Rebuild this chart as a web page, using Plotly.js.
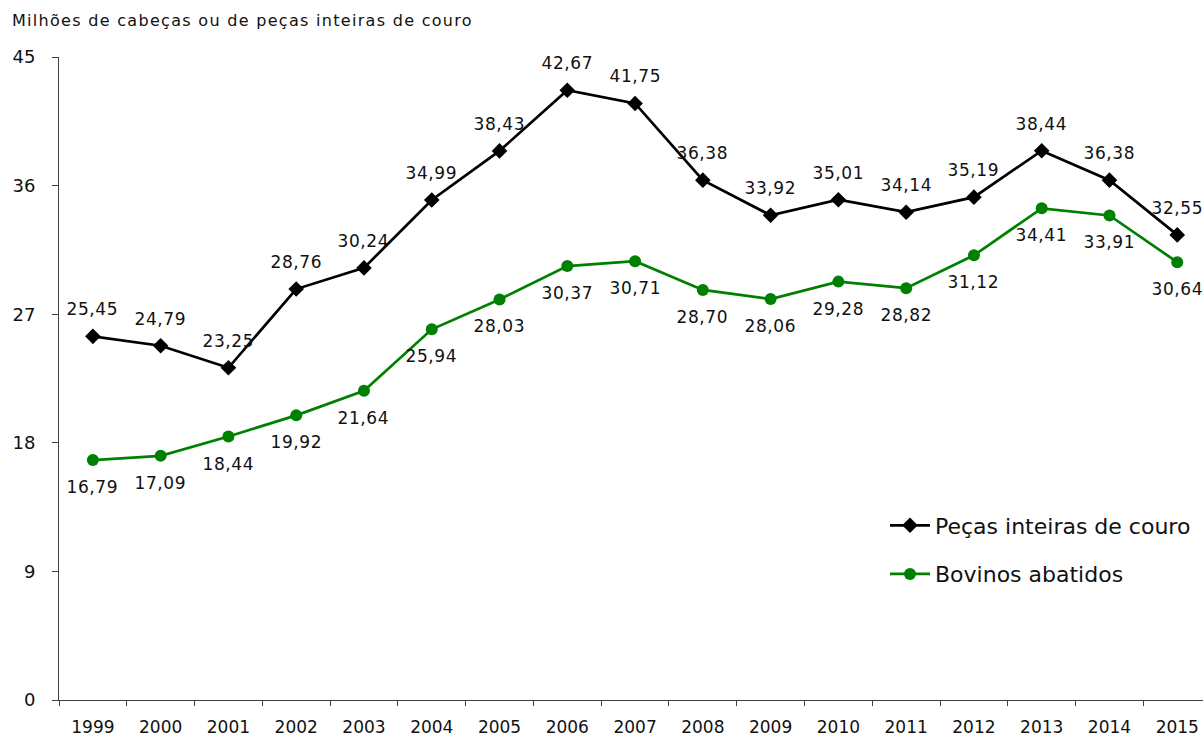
<!DOCTYPE html>
<html><head><meta charset="utf-8">
<script src="https://cdn.plot.ly/plotly-3.0.1.min.js"></script>
<style>
body{margin:0;background:#fff}
#chart{width:1203px;height:738px}
#chart .gtitle{letter-spacing:1.3px}
#chart .annotation-text{letter-spacing:0.6px}
#err{position:absolute;left:300px;top:600px;color:red;font:12px sans-serif}
</style>
</head><body><div id="chart"></div><div id="err"></div>
<script>
const years = ['1999','2000','2001','2002','2003','2004','2005','2006','2007','2008','2009','2010','2011','2012','2013','2014','2015'];
const pecas = [25.45,24.79,23.25,28.76,30.24,34.99,38.43,42.67,41.75,36.38,33.92,35.01,34.14,35.19,38.44,36.38,32.55];
const bovinos = [16.79,17.09,18.44,19.92,21.64,25.94,28.03,30.37,30.71,28.70,28.06,29.28,28.82,31.12,34.41,33.91,30.64];
const yTicks = [0,9,18,27,36,45];
const FONT = 'DejaVu Sans, Liberation Sans, sans-serif';

const fmt = v => v.toFixed(2).replace('.', ',');

const traces = [
  {x: years, y: pecas, name: 'Peças inteiras de couro', type: 'scatter', mode: 'lines+markers',
   line: {color: '#000000', width: 2.7}, marker: {symbol: 'diamond', size: 12, color: '#000000'},
   legendgroup: 'a', cliponaxis: false},
  {x: years, y: bovinos, name: 'Bovinos abatidos', type: 'scatter', mode: 'lines+markers',
   line: {color: '#008000', width: 2.7}, marker: {symbol: 'circle', size: 12, color: '#008000'},
   legendgroup: 'b', cliponaxis: false}
];

const annotations = [];
years.forEach(function (yr, i) {
  annotations.push({xref: 'x', yref: 'y', x: i, y: pecas[i], text: fmt(pecas[i]), showarrow: false, yshift: 27,
    xanchor: 'center', yanchor: 'middle', font: {size: 17, color: '#111', family: FONT}});
  annotations.push({xref: 'x', yref: 'y', x: i, y: bovinos[i], text: fmt(bovinos[i]), showarrow: false, yshift: -27,
    xanchor: 'center', yanchor: 'middle', font: {size: 17, color: '#111', family: FONT}});
});

const layout = {
  width: 1203, height: 738,
  margin: {l: 59, r: 0, t: 57, b: 38},
  paper_bgcolor: '#fff', plot_bgcolor: '#fff',
  font: {family: FONT, color: '#111'},
  showlegend: true,
  title: {text: 'Milhões de cabeças ou de peças inteiras de couro', xref: 'container', yref: 'container',
    x: 12/1203, y: 1 - 20/738, xanchor: 'left', yanchor: 'middle',
    font: {size: 16, color: '#111', family: FONT}},
  legend: {x: (885-59)/1144, y: (700-550)/643, xanchor: 'left', yanchor: 'middle', itemwidth: 40,
    tracegroupgap: 17, font: {size: 22, color: '#111', family: FONT}, bgcolor: 'rgba(0,0,0,0)'},
  annotations: annotations,
  xaxis: {type: 'category', range: [-0.5, 16.38], showgrid: false, zeroline: false,
    showline: true, linecolor: '#404040', linewidth: 1,
    ticks: 'outside', tickson: 'boundaries', ticklen: 5, tickcolor: '#404040', ticklabelstandoff: 12,
    tickfont: {size: 17, color: '#111', family: FONT}},
  yaxis: {range: [0, 45], tickvals: yTicks, showgrid: false, zeroline: false,
    showline: true, linecolor: '#404040', linewidth: 1,
    ticks: 'outside', ticklen: 6, tickcolor: '#404040', ticklabelstandoff: 13,
    tickfont: {size: 18, color: '#111', family: FONT}}
};
try {
  Plotly.newPlot('chart', traces, layout, {displayModeBar: false, staticPlot: true})
    .catch(function (e) { document.getElementById('err').textContent = 'ERR ' + e; });
} catch (e) { document.getElementById('err').textContent = 'ERR ' + e; }
</script></body></html>
